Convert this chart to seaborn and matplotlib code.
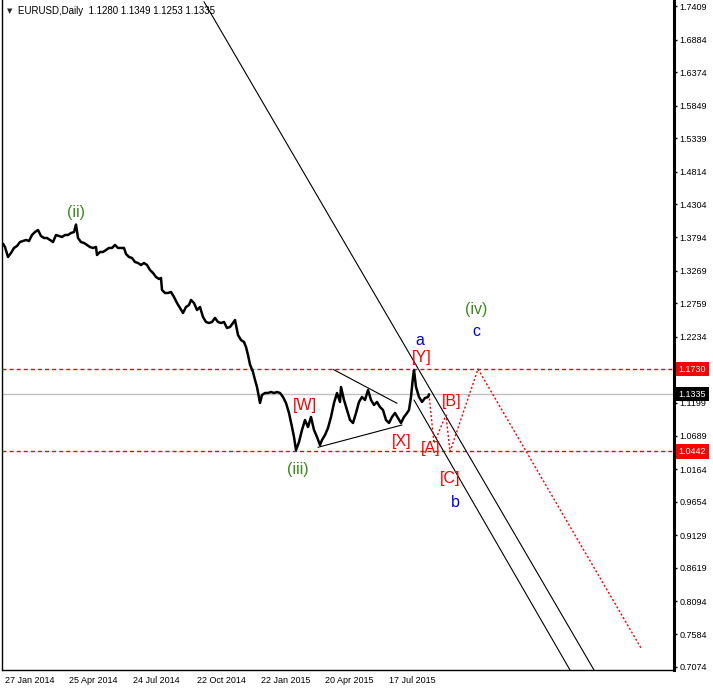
import matplotlib
matplotlib.use('Agg')
import matplotlib.pyplot as plt
import matplotlib.transforms as mtransforms
import pandas as pd
import seaborn as sns

# daily closes (bar 0 = 27 Jan 2014, one bar per pixel)
bars = [0, 2, 5, 8, 11, 14, 17, 20, 23, 26, 29, 32, 35, 38, 41, 44, 47, 50, 53, 56,
        59, 62, 65, 68, 71, 73, 75, 78, 81, 84, 87, 90, 93, 94, 97, 100, 103, 106, 109, 112,
        115, 118, 121, 123, 126, 129, 132, 135, 138, 141, 144, 147, 150, 153, 156, 158, 159, 162, 165, 168,
        171, 174, 177, 180, 183, 186, 188, 191, 194, 197, 200, 203, 206, 209, 212, 215, 218, 221, 224, 227,
        230, 232, 235, 238, 241, 243, 245, 247, 250, 252, 254, 257, 259, 262, 265, 268, 271, 274, 277, 280,
        283, 286, 289, 291, 293, 296, 299, 302, 305, 308, 311, 314, 317, 319, 322, 325, 328, 331, 334, 337,
        338, 341, 344, 347, 350, 353, 356, 359, 362, 365, 368, 371, 374, 377, 380, 383, 386, 389, 392, 395,
        398, 401, 404, 406, 408, 410, 411, 413, 416, 419, 422, 425, 426]
close = [1.3690, 1.3639, 1.3483, 1.3545, 1.3624, 1.3655, 1.3717, 1.3733, 1.3749, 1.3733,
         1.3827, 1.3874, 1.3905, 1.3811, 1.3780, 1.3780, 1.3749, 1.3717, 1.3827, 1.3811,
         1.3796, 1.3827, 1.3827, 1.3858, 1.3874, 1.3990, 1.3780, 1.3717, 1.3702, 1.3671,
         1.3639, 1.3624, 1.3639, 1.3514, 1.3561, 1.3561, 1.3592, 1.3624, 1.3624, 1.3671,
         1.3624, 1.3624, 1.3624, 1.3530, 1.3483, 1.3467, 1.3405, 1.3389, 1.3358, 1.3389,
         1.3358, 1.3279, 1.3233, 1.3170, 1.3139, 1.3154, 1.2967, 1.2920, 1.2920, 1.2935,
         1.2857, 1.2763, 1.2685, 1.2607, 1.2701, 1.2732, 1.2810, 1.2763, 1.2654, 1.2701,
         1.2544, 1.2466, 1.2450, 1.2466, 1.2529, 1.2466, 1.2450, 1.2466, 1.2372, 1.2388,
         1.2450, 1.2497, 1.2263, 1.2184, 1.2153, 1.2075, 1.1950, 1.1800, 1.1684, 1.1559,
         1.1449, 1.1199, 1.1324, 1.1355, 1.1355, 1.1371, 1.1355, 1.1371, 1.1355, 1.1293,
         1.1199, 1.1042, 1.0823, 1.0667, 1.0462, 1.0589, 1.0777, 1.0933, 1.0823, 1.0980,
         1.0777, 1.0667, 1.0542, 1.0620, 1.0698, 1.0808, 1.0980, 1.1199, 1.1355, 1.1215,
         1.1449, 1.1246, 1.1089, 1.0933, 1.0886, 1.1042, 1.1215, 1.1293, 1.1246, 1.1402,
         1.1246, 1.1168, 1.1215, 1.1136, 1.1089, 1.0933, 1.0886, 1.0980, 1.1042, 1.0964,
         1.0886, 1.0980, 1.1042, 1.1089, 1.1293, 1.1606, 1.1714, 1.1449, 1.1293, 1.1215,
         1.1277, 1.1293, 1.1335]

price_ticks = [1.7409, 1.6884, 1.6374, 1.5849, 1.5339, 1.4814, 1.4304, 1.3794, 1.3269, 1.2759,
               1.2234, 1.1199, 1.0689, 1.0164, 0.9654, 0.9129, 0.8619, 0.8094, 0.7584, 0.7074]
date_ticks = [0, 64, 128, 192, 256, 320, 384]
date_labels = ['27 Jan 2014', '25 Apr 2014', '24 Jul 2014', '22 Oct 2014',
               '22 Jan 2015', '20 Apr 2015', '17 Jul 2015']

level_high = 1.1730
level_low = 1.0442
last_price = 1.1335

channel_outer_x = [201, 591]
channel_outer_y = [1.7476, 0.7022]
channel_inner_x = [411, 567]
channel_inner_y = [1.1246, 0.7022]
triangle_top_x = [330, 394]
triangle_top_y = [1.1726, 1.1194]
triangle_bot_x = [315, 399]
triangle_bot_y = [1.0506, 1.0855]

forecast_x = [426, 431, 443, 447, 475, 638]
forecast_y = [1.1335, 1.0568, 1.1011, 1.0437, 1.1730, 0.7366]

GREEN = '#3A8A1C'
RED = '#FF0000'
BLUE = '#0000FF'
wave_text = ['(ii)', '(iii)', '(iv)', 'a', 'c', 'b', '[Y]', '[W]', '[X]', '[A]', '[B]', '[C]']
wave_x = [73, 295, 473.5, 416.5, 473, 452, 418.5, 302, 399, 428, 449, 447]
wave_y = [1.4171, 1.0166, 1.2654, 1.2169, 1.2317, 0.9635, 1.1911, 1.1152, 1.0597, 1.0487, 1.1222, 1.0018]
wave_col = [GREEN, GREEN, GREEN, BLUE, BLUE, BLUE, RED, RED, RED, RED, RED, RED]

sns.set_style('white')
plt.rcParams['font.family'] = ['Liberation Sans', 'DejaVu Sans']

fig = plt.figure(figsize=(7.13, 6.88), dpi=100)
ax = fig.add_axes([2 / 713, 18 / 688, 672 / 713, 670 / 688])

df = pd.DataFrame({'bar': bars, 'close': close})

# levels
ax.axhline(last_price, color='#C0C0C0', lw=1, zorder=1)
ax.axhline(level_high, color=RED, lw=1, ls=(0, (2.9, 2.2)), zorder=1)
ax.axhline(level_low, color=RED, lw=1, ls=(0, (2.9, 2.2)), zorder=1)

sns.lineplot(data=df, x='bar', y='close', color='black', lw=1.8, ax=ax, zorder=3)

for xs, ys in [(channel_outer_x, channel_outer_y), (channel_inner_x, channel_inner_y),
               (triangle_top_x, triangle_top_y), (triangle_bot_x, triangle_bot_y)]:
    ax.plot(xs, ys, color='black', lw=0.8, zorder=2)

ax.plot(forecast_x, forecast_y, color=RED, lw=1, ls=(0, (1.5, 1.5)), zorder=2)

for t, x, y, c in zip(wave_text, wave_x, wave_y, wave_col):
    ax.text(x, y, t, color=c, fontsize=11.5, ha='center', va='center', zorder=4)

ax.set_xlim(-1, 671)
ax.set_ylim(0.7022, 1.7503)
ax.set_xlabel('')
ax.set_ylabel('')

ax.yaxis.tick_right()
ax.set_yticks(price_ticks)
ax.set_yticklabels([f'{v:.4f}' for v in price_ticks], fontsize=6.5)
ax.tick_params(axis='y', direction='out', length=2, width=1, pad=2, colors='black')
ax.set_xticks(date_ticks)
ax.set_xticklabels(date_labels, fontsize=6.5, ha='left')
ax.tick_params(axis='x', direction='out', length=4, width=1, pad=0.5, colors='black')
shift = mtransforms.ScaledTranslation(2 / 100, 0, fig.dpi_scale_trans)
for lbl in ax.get_xticklabels():
    lbl.set_transform(lbl.get_transform() + shift)

for side in ['left', 'bottom']:
    ax.spines[side].set_color('black')
    ax.spines[side].set_linewidth(1)
ax.spines['right'].set_color('black')
ax.spines['right'].set_linewidth(2.2)
ax.spines['top'].set_visible(False)

# price boxes on the right scale
trans = mtransforms.blended_transform_factory(ax.transAxes, ax.transData)
for val, bg in [(level_high, RED), (last_price, 'black'), (level_low, RED)]:
    ax.text(1 + 4.5 / 672, val, f'{val:.4f}', transform=trans, fontsize=6.5, color='white',
            ha='left', va='center', clip_on=False, zorder=6,
            bbox=dict(boxstyle='square,pad=0.3', fc=bg, ec='none'))

fig.text(7 / 713, 1 - 11 / 688, '\u25bc', fontsize=5, family='DejaVu Sans', va='center', ha='left')
fig.text(18 / 713, 1 - 11 / 688, 'EURUSD,Daily  1.1280 1.1349 1.1253 1.1335', fontsize=7,
         va='center', ha='left', color='black')

fig.savefig('out.png', dpi=100)
